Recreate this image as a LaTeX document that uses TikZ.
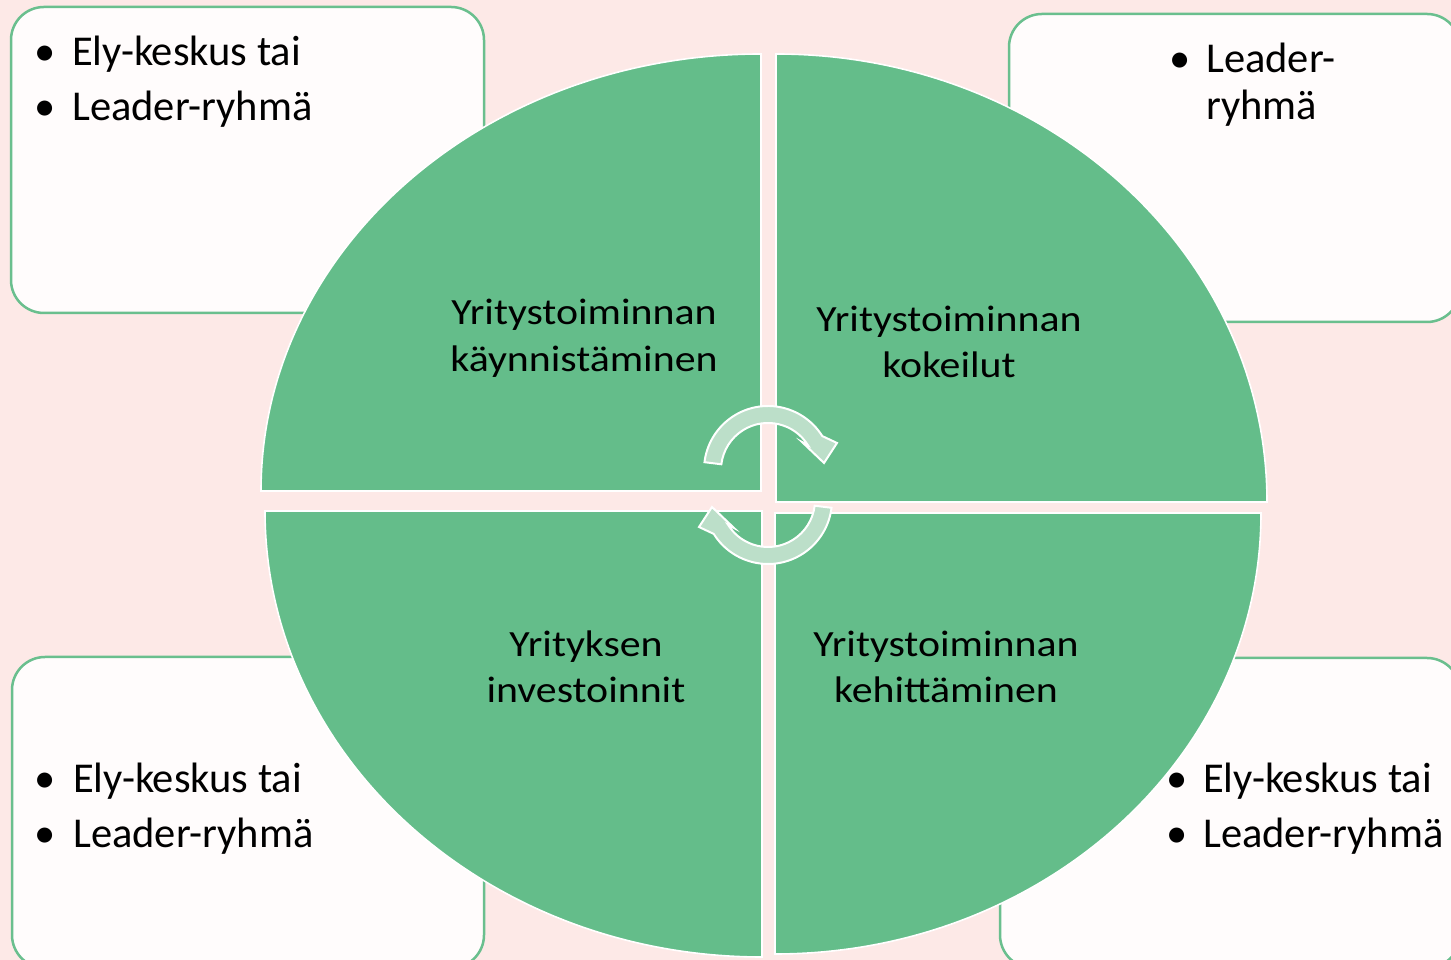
\documentclass[tikz,border=0pt]{standalone}
\usepackage{fontspec}
\setmainfont{Carlito}
\newfontfamily\ctrfont[FakeStretch=1.13]{Carlito}
\definecolor{bgpink}{HTML}{FDE9E7}
\definecolor{qgreen}{HTML}{64BD8A}
\definecolor{boxfill}{HTML}{FFFCFC}
\definecolor{boxline}{HTML}{6ABF8E}
\definecolor{arrowfill}{HTML}{BCDFC9}
\begin{document}
\begin{tikzpicture}[x=1pt,y=1pt,
  infobox/.style={draw=boxline, line width=2.5pt, fill=boxfill, rounded corners=33pt},
  quarter/.style={fill=qgreen, draw=white, line width=1.6pt},
  bul/.style={anchor=base, inner sep=0pt, font=\fontsize{42.5}{50}\selectfont},
  btxt/.style={anchor=base west, inner sep=0pt, font=\fontsize{42.5}{50}\selectfont},
  ctxt/.style={anchor=base, inner sep=0pt, font=\ctrfont\fontsize{37}{46}\selectfont},
  cycarrow/.pic={\path[fill=arrowfill, draw=white, line width=2pt]
     (173:64) arc[start angle=173, end angle=32, radius=64]
     -- (69,27) -- (56,7) -- (34,28) -- (32:47)
     arc[start angle=32, end angle=173, radius=47] -- cycle;}
]
\useasboundingbox (0,0) rectangle (1451,960);
\clip (0,0) rectangle (1451,960);
\fill[bgpink] (0,0) rectangle (1451,960);

% corner boxes
\draw[infobox] (11,647) rectangle (484,953);
\draw[infobox] (1009,638) rectangle (1460,946);
\draw[infobox] (12,-8) rectangle (484,303);
\draw[infobox] (1000,-8) rectangle (1460,302);

% quarters
\draw[quarter] (761,469) -- (261,469) arc[start angle=180,end angle=90,x radius=500,y radius=437] -- cycle;
\draw[quarter] (776,458) -- (776,906) arc[start angle=90,end angle=0,x radius=491,y radius=448] -- cycle;
\draw[quarter] (762,449) -- (762,3) arc[start angle=270,end angle=180,x radius=497,y radius=446] -- cycle;
\draw[quarter] (775,447) -- (1261,447) arc[start angle=0,end angle=-90,x radius=486,y radius=441] -- cycle;

% circular arrows
\pic at (768,490) {cycarrow};
\pic[rotate=180] at (768,460) {cycarrow};

% quarter texts
\node[ctxt] (tl1) at (584,635) {Yritystoiminnan};
\node[ctxt] (tl2) at (584,588) {käynnistäminen};
\node[ctxt] (tr1) at (949,628) {Yritystoiminnan};
\node[ctxt] (tr2) at (949,582) {kokeilut};
\node[ctxt] (bl1) at (586,303) {Yrityksen};
\node[ctxt] (bl2) at (586,257) {investoinnit};
\node[ctxt] (br1) at (946,303) {Yritystoiminnan};
\node[ctxt] (br2) at (946,257) {kehittäminen};

% bullets top-left
\node[bul] (tlb1) at (45,894) {•};
\node[btxt] (tlt1) at (72,894) {Ely-keskus tai};
\node[bul] (tlb2) at (45,839) {•};
\node[btxt] (tlt2) at (72,839) {Leader-ryhmä};
% top-right
\node[bul] (trb1) at (1180,887) {•};
\node[btxt] (trt1) at (1206,887) {Leader-};
\node[btxt] (trt2) at (1206,840) {ryhmä};
% bottom-left
\node[bul] (blb1) at (45,167) {•};
\node[btxt] (blt1) at (73,167) {Ely-keskus tai};
\node[bul] (blb2) at (45,112) {•};
\node[btxt] (blt2) at (73,112) {Leader-ryhmä};
% bottom-right
\node[bul] (brb1) at (1177,167) {•};
\node[btxt] (brt1) at (1203,167) {Ely-keskus tai};
\node[bul] (brb2) at (1177,112) {•};
\node[btxt] (brt2) at (1203,112) {Leader-ryhmä};
\end{tikzpicture}
\end{document}
